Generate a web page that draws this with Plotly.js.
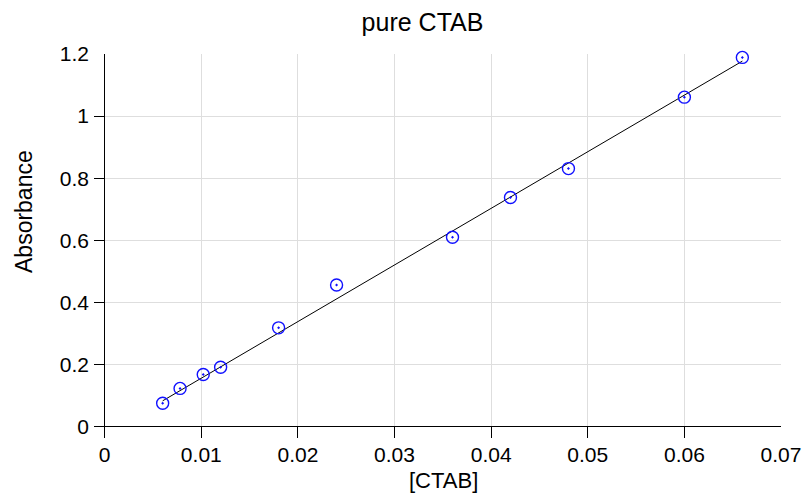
<!DOCTYPE html>
<html>
<head>
<meta charset="utf-8">
<script src="https://cdn.plot.ly/plotly-3.0.1.min.js"></script>
<style>html,body{margin:0;padding:0;background:#fff;}#chart{width:806px;height:498px;}</style>
</head>
<body>
<div id="chart"></div>
<script>
// Data
var concCTAB = [0.006, 0.0078, 0.0102, 0.012, 0.018, 0.024, 0.036, 0.042, 0.048, 0.060, 0.066];
var absorbance = [0.075, 0.123, 0.168, 0.191, 0.318, 0.456, 0.610, 0.738, 0.831, 1.061, 1.189];
var fitX = [0.006, 0.066];
var fitY = [0.083, 1.177];
var xTicks = [0, 0.01, 0.02, 0.03, 0.04, 0.05, 0.06, 0.07];
var xTickText = ['0', '0.01', '0.02', '0.03', '0.04', '0.05', '0.06', '0.07'];
var yTicks = [0, 0.2, 0.4, 0.6, 0.8, 1, 1.2];
var yTickText = ['0', '0.2', '0.4', '0.6', '0.8', '1', '1.2'];

var FONT = 'Liberation Sans, Arial, sans-serif';

var traces = [
  {
    x: fitX, y: fitY, type: 'scatter', mode: 'lines',
    line: {color: '#000000', width: 1}, hoverinfo: 'skip', showlegend: false, cliponaxis: false
  },
  {
    x: concCTAB, y: absorbance, type: 'scatter', mode: 'markers', cliponaxis: false,
    marker: {symbol: 'circle-open-dot', size: 12, color: '#1010ff', line: {width: 1.4, color: '#1010ff'}},
    showlegend: false
  }
];

var layout = {
  width: 806, height: 498,
  margin: {l: 94, r: 25, t: 54, b: 60, pad: 0},
  paper_bgcolor: '#ffffff', plot_bgcolor: '#ffffff',
  font: {family: FONT, size: 21, color: '#000000'},
  title: {text: 'pure CTAB', font: {family: FONT, size: 25, color: '#000'}, x: 422.5/806, xref: 'container', xanchor: 'center', y: 1 - 22/498, yref: 'container', yanchor: 'middle'},
  xaxis: {
    range: [-0.001107, 0.07], tickmode: 'array', tickvals: xTicks, ticktext: xTickText,
    ticks: 'inside', ticklen: 11, tickwidth: 1, tickcolor: '#000',
    showgrid: true, gridcolor: '#dedede', gridwidth: 1,
    zeroline: true, zerolinecolor: '#000', zerolinewidth: 1,
    showline: false, tickfont: {family: FONT, size: 21, color: '#000'}, ticklabelstandoff: 2
  },
  yaxis: {
    range: [-0.0367, 1.2], tickmode: 'array', tickvals: yTicks, ticktext: yTickText,
    ticks: 'inside', ticklen: 11, tickwidth: 1, tickcolor: '#000',
    showgrid: true, gridcolor: '#dedede', gridwidth: 1,
    zeroline: true, zerolinecolor: '#000', zerolinewidth: 1,
    showline: false, tickfont: {family: FONT, size: 21, color: '#000'}, ticklabelstandoff: 4
  },
  annotations: [
    {text: '[CTAB]', xref: 'paper', yref: 'paper', x: (443 - 94) / 687, y: -(480 - 438) / 384,
     xanchor: 'center', yanchor: 'middle', showarrow: false, font: {family: FONT, size: 22, color: '#000'}},
    {text: 'Absorbance', xref: 'paper', yref: 'paper', x: -(94 - 24) / 687, y: (438 - 212) / 384,
     xanchor: 'center', yanchor: 'middle', textangle: -90, showarrow: false, font: {family: FONT, size: 23, color: '#000'}}
  ]
};

Plotly.newPlot('chart', traces, layout, {displayModeBar: false, staticPlot: true});
</script>
</body>
</html>
